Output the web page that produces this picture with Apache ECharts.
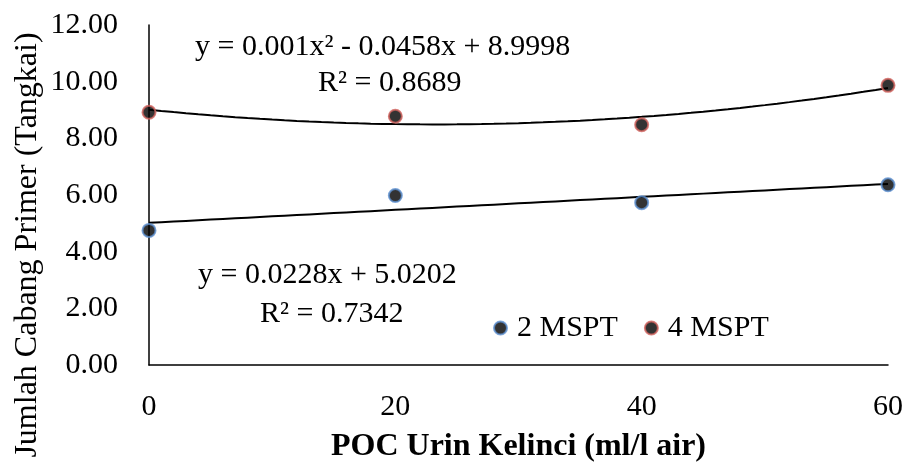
<!DOCTYPE html>
<html><head><meta charset="utf-8">
<script src="https://cdn.jsdelivr.net/npm/echarts@6/dist/echarts.min.js"></script>
<style>html,body{margin:0;padding:0;background:#fff}#c{width:909px;height:468px}</style>
</head><body><div id="c"></div>
<script>
const xValues = [0, 20, 40, 60];
const mspt2 = [4.75, 5.98, 5.73, 6.36];
const mspt4 = [8.92, 8.78, 8.48, 9.87];
const seriesNames = ['2 MSPT', '4 MSPT'];
const yTicks = [0, 2, 4, 6, 8, 10, 12];
const eqTop = ['y = 0.001x² - 0.0458x + 8.9998', 'R² = 0.8689'];
const eqBottom = ['y = 0.0228x + 5.0202', 'R² = 0.7342'];
const xTitle = 'POC Urin Kelinci (ml/l air)';
const yTitle = 'Jumlah Cabang Primer (Tangkai)';

// least-squares trendlines derived from the data
function linFit(xs, ys){
  const n=xs.length, mx=xs.reduce((a,b)=>a+b)/n, my=ys.reduce((a,b)=>a+b)/n;
  let sxy=0,sxx=0; xs.forEach((x,i)=>{sxy+=(x-mx)*(ys[i]-my);sxx+=(x-mx)*(x-mx);});
  const b=sxy/sxx; return [my-b*mx, b];
}
function quadFit(xs, ys){
  let S=[0,0,0,0,0], T=[0,0,0];
  xs.forEach((x,i)=>{for(let k=0;k<5;k++)S[k]+=Math.pow(x,k);for(let k=0;k<3;k++)T[k]+=ys[i]*Math.pow(x,k);});
  const A=[[S[0],S[1],S[2],T[0]],[S[1],S[2],S[3],T[1]],[S[2],S[3],S[4],T[2]]];
  for(let i=0;i<3;i++){for(let j=i+1;j<3;j++){const f=A[j][i]/A[i][i];for(let k=i;k<4;k++)A[j][k]-=f*A[i][k];}}
  const c=[0,0,0];
  for(let i=2;i>=0;i--){let s=A[i][3];for(let k=i+1;k<3;k++)s-=A[i][k]*c[k];c[i]=s/A[i][i];}
  return c;
}
const lf=linFit(xValues,mspt2), qf=quadFit(xValues,mspt4);
const linLine=[], quadLine=[];
for(let x=0;x<=60;x+=1){
  linLine.push([x, lf[0]+lf[1]*x]);
  quadLine.push([x, qf[0]+qf[1]*x+qf[2]*x*x]);
}
const FONT='Liberation Serif';
const chart=echarts.init(document.getElementById('c'),null,{renderer:'canvas'});
const markerStyle=(c)=>({color:'#000',borderColor:c,borderWidth:2});
const eqFont='30px "Liberation Serif"';
chart.setOption({
  animation:false,
  textStyle:{fontFamily:FONT,color:'#000'},
  grid:{left:149,right:21,top:25,bottom:96,containLabel:false},
  xAxis:{type:'value',min:0,max:60,interval:20,
    axisLine:{show:true,lineStyle:{color:'#000',width:1.5}},axisTick:{show:false},splitLine:{show:false},
    axisLabel:{fontFamily:FONT,fontSize:30,color:'#000',margin:27},
    name:xTitle,nameLocation:'middle',nameGap:66,
    nameTextStyle:{fontFamily:FONT,fontSize:32,fontWeight:'bold',color:'#000'}},
  yAxis:{type:'value',min:yTicks[0],max:yTicks[yTicks.length-1],interval:2,
    axisLine:{show:true,lineStyle:{color:'#000',width:1.5}},axisTick:{show:false},splitLine:{show:false},
    axisLabel:{fontFamily:FONT,fontSize:30,color:'#000',margin:31,formatter:v=>v.toFixed(2)}},
  legend:{data:seriesNames,left:488,top:308,itemGap:26,itemWidth:13,itemHeight:13,
    textStyle:{fontFamily:FONT,fontSize:30,color:'#000',padding:[0,0,0,5]},
    icon:'circle'},
  series:[
    {name:seriesNames[0],type:'scatter',data:xValues.map((x,i)=>[x,mspt2[i]]),symbolSize:13,itemStyle:markerStyle('#5b8fd0'),z:5},
    {name:seriesNames[1],type:'scatter',data:xValues.map((x,i)=>[x,mspt4[i]]),symbolSize:13,itemStyle:markerStyle('#d0605b'),z:5},
    {type:'line',data:linLine,showSymbol:false,symbol:'none',lineStyle:{color:'#000',width:2},silent:true,z:3},
    {type:'line',data:quadLine,showSymbol:false,symbol:'none',lineStyle:{color:'#000',width:2},silent:true,z:3}
  ],
  graphic:[
    {type:'text',x:28,y:245,rotation:Math.PI/2,style:{text:yTitle,font:'32px "Liberation Serif"',fill:'#000',align:'center',verticalAlign:'middle'}},
    {type:'text',x:195,y:47,style:{text:eqTop[0],font:eqFont,fill:'#000',align:'left',verticalAlign:'middle'}},
    {type:'text',x:318,y:83,style:{text:eqTop[1],font:eqFont,fill:'#000',align:'left',verticalAlign:'middle'}},
    {type:'text',x:198,y:275,style:{text:eqBottom[0],font:eqFont,fill:'#000',align:'left',verticalAlign:'middle'}},
    {type:'text',x:260,y:314,style:{text:eqBottom[1],font:eqFont,fill:'#000',align:'left',verticalAlign:'middle'}}
  ]
});
</script></body></html>
